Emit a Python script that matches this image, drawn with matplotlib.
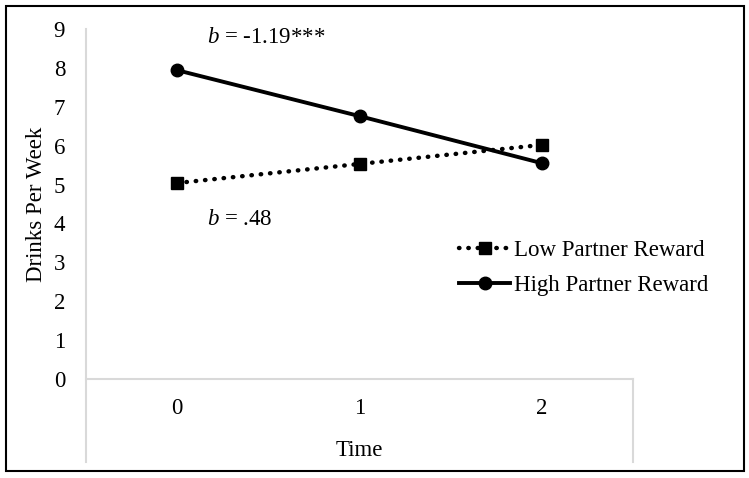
import matplotlib
matplotlib.use("Agg")
import matplotlib.pyplot as plt
from matplotlib.patches import Rectangle

plt.rcParams["font.family"] = ["Liberation Serif", "DejaVu Serif"]
plt.rcParams["mathtext.fontset"] = "custom"
plt.rcParams["mathtext.it"] = "Liberation Serif:italic"
plt.rcParams["mathtext.rm"] = "Liberation Serif"

# data
time_points = [0, 1, 2]
time_labels = ["0", "1", "2"]
low_reward = [5.04, 5.53, 6.02]
high_reward = [7.94, 6.76, 5.55]
series_names = ["Low Partner Reward", "High Partner Reward"]
y_ticks = list(range(0, 10))

W, H = 749, 478
FS = 16.5
fig = plt.figure(figsize=(W / 100, H / 100), dpi=100)
ax = fig.add_axes([86 / W, 1 - 379 / H, (633 - 86) / W, (379 - 29) / H])

axis_grey = "#d9d9d9"

ax.plot(time_points, low_reward, color="black", lw=3.2,
        linestyle=(0, (0.1, 2.0)), dash_capstyle="round",
        marker="s", markersize=8.5, label=series_names[0], clip_on=False)
ax.plot(time_points, high_reward, color="black", lw=2.8,
        marker="o", markersize=9, label=series_names[1], clip_on=False)

ax.set_xlim(-0.5, 2.5)
ax.set_ylim(0, 9)
ax.set_yticks(y_ticks)
ax.set_yticklabels([str(v) for v in y_ticks], fontsize=FS)
ax.set_xticks(time_points)
ax.set_xticklabels(time_labels, fontsize=FS)
ax.tick_params(axis="both", length=0)
ax.tick_params(axis="y", pad=15)
ax.tick_params(axis="x", pad=14)

for side in ["top", "right", "left"]:
    ax.spines[side].set_visible(False)
ax.spines["bottom"].set_color(axis_grey)
ax.spines["bottom"].set_linewidth(1.5)

# excel-like axis lines reaching down through the label area
low = (379 - 462) / (379 - 29)
ax.plot([0, 0], [low, 1], transform=ax.transAxes, color=axis_grey,
        lw=1.5, clip_on=False)
ax.plot([1, 1], [low, 0], transform=ax.transAxes, color=axis_grey,
        lw=1.5, clip_on=False)

ax.set_ylabel("Drinks Per Week", fontsize=FS, labelpad=5)
ax.set_xlabel("Time", fontsize=FS, labelpad=15)

ax.text(0.165, 8.77, r"$\mathit{b}$ = -1.19***", fontsize=FS,
        va="center", ha="left")
ax.text(0.165, 4.11, r"$\mathit{b}$ = .48", fontsize=FS,
        va="center", ha="left")

fig.legend(loc="center left", bbox_to_anchor=(448 / W, 1 - 268 / H),
           frameon=False, fontsize=FS, handlelength=2.2,
           handletextpad=0.2, labelspacing=0.62, borderpad=0)

fig.add_artist(Rectangle((6 / W, 1 - 471 / H), (744 - 6) / W, (471 - 6) / H,
                         transform=fig.transFigure, fill=False,
                         edgecolor="black", lw=1.5))

fig.savefig("out.png", dpi=100)
